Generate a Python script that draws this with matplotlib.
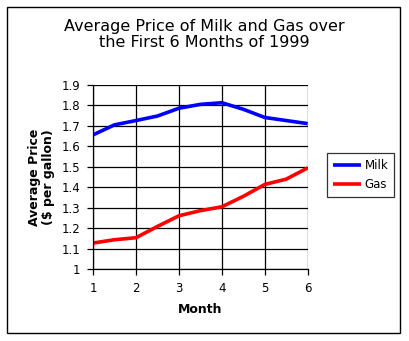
import numpy as np
import matplotlib
matplotlib.use("Agg")
import matplotlib.pyplot as plt
from matplotlib.patches import Rectangle

# values (half-month steps)
months = [1, 1.5, 2, 2.5, 3, 3.5, 4, 4.5, 5, 5.5, 6]
milk = [1.655, 1.704, 1.725, 1.747, 1.785, 1.804, 1.812, 1.78, 1.74, 1.725, 1.71]
gas = [1.127, 1.143, 1.153, 1.208, 1.26, 1.285, 1.304, 1.355, 1.413, 1.439, 1.494]
x_ticks = [1, 2, 3, 4, 5, 6]
y_ticks = [1.0, 1.1, 1.2, 1.3, 1.4, 1.5, 1.6, 1.7, 1.8, 1.9]
y_labels = ["1", "1.1", "1.2", "1.3", "1.4", "1.5", "1.6", "1.7", "1.8", "1.9"]

plt.rcParams["font.family"] = ["DejaVu Sans"]

fig = plt.figure(figsize=(4.09, 3.41), dpi=100)
ax = fig.add_axes([0.2274, 0.211, 0.525, 0.5406])

# outer frame of the chart
fig.patches.append(Rectangle((7 / 409, 8 / 341), 393 / 409, 326 / 341,
                             transform=fig.transFigure, fill=False,
                             edgecolor="black", linewidth=1))

ax.plot(months, milk, color="#0000ff", linewidth=2.6, label="Milk",
        solid_capstyle="butt")
ax.plot(months, gas, color="#ff0000", linewidth=2.6, label="Gas",
        solid_capstyle="butt")

ax.set_xlim(1, 6)
ax.set_ylim(1.0, 1.9)
ax.set_xticks(x_ticks)
ax.set_yticks(y_ticks)
ax.set_yticklabels(y_labels)
ax.grid(True, color="black", linewidth=0.9)
ax.set_axisbelow(True)
for spine in ["top", "right"]:
    ax.spines[spine].set_visible(False)
ax.spines["left"].set_linewidth(0.9)
ax.spines["bottom"].set_linewidth(0.9)
ax.tick_params(direction="out", length=4, width=0.9, labelsize=8.5, pad=5)

ax.set_xlabel("Month", fontsize=9, fontweight="bold", labelpad=6)
ax.set_ylabel("Average Price\n($ per gallon)", fontsize=9,
              fontweight="bold", labelpad=5, linespacing=1.1)

fig.text(0.5, 0.899, "Average Price of Milk and Gas over\nthe First 6 Months of 1999",
         ha="center", va="center", fontsize=11.5, linespacing=1.15)

leg = ax.legend(loc="center left", bbox_to_anchor=(327 / 409, 1 - 175 / 341),
                bbox_transform=fig.transFigure, fontsize=8.5, frameon=True,
                fancybox=False, edgecolor="black", handlelength=2.4,
                handletextpad=0.3, borderpad=0.5, labelspacing=0.5,
                borderaxespad=0)
leg.get_frame().set_linewidth(0.9)

fig.savefig("out.png", dpi=100)
